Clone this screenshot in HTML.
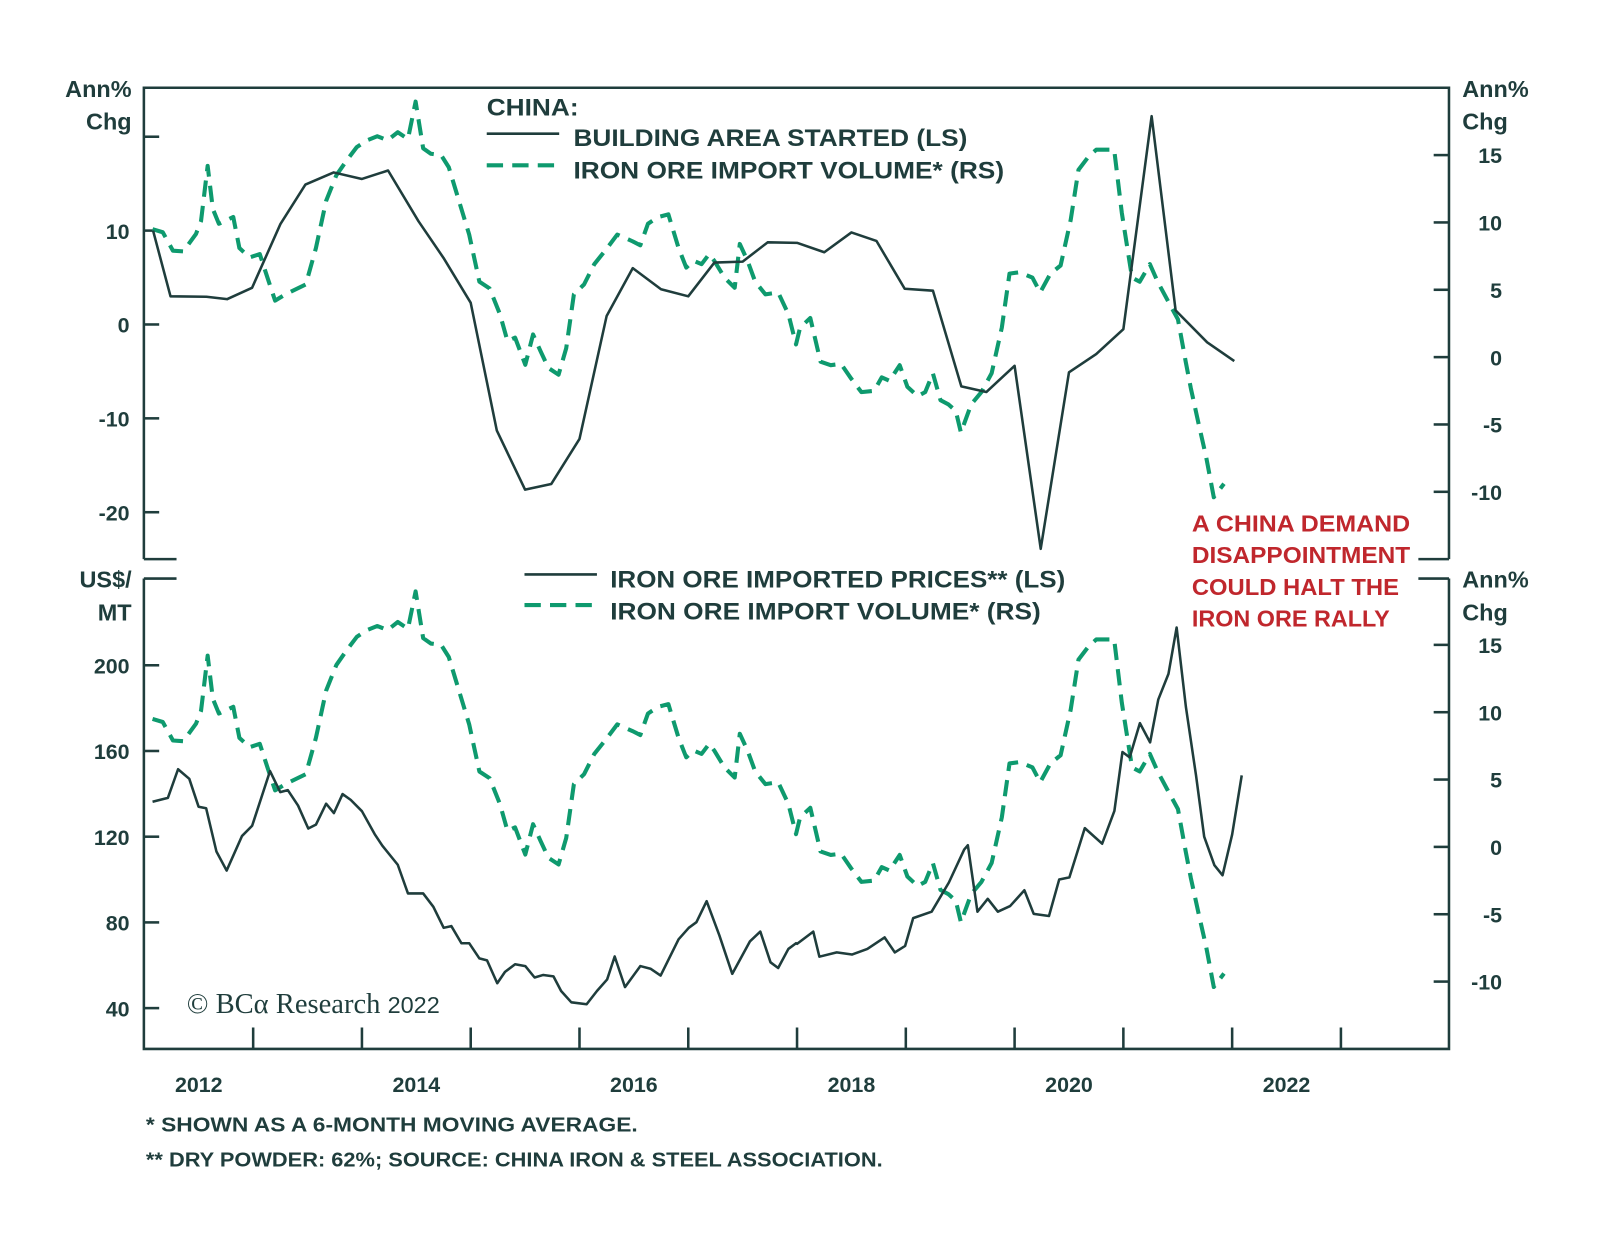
<!DOCTYPE html>
<html><head><meta charset="utf-8">
<style>
html,body{margin:0;padding:0;background:#fff;}
svg{display:block;}
text{font-family:"Liberation Sans",sans-serif;font-weight:bold;fill:#1f3d3c;}
</style></head>
<body>
<svg id="chart" width="1600" height="1253" viewBox="0 0 1568 1228" preserveAspectRatio="none" xmlns="http://www.w3.org/2000/svg">
<rect x="0" y="0" width="1568" height="1228" fill="#fff"/>
<g id="frame" stroke="#1f3d3c" stroke-width="2.5" fill="none">
<path d="M141,548 V86 H1420 V548"/>
<path d="M141,548 H173 M1390,548 H1420"/>
<path d="M141,567 V1028 H1420 V567"/>
<path d="M141,567 H173 M1390,567 H1420"/>
</g>
<g id="ticks" stroke="#1f3d3c" stroke-width="2.5"></g>
<g id="labels"></g>
<g id="series"></g>
<g>
<text x="477" y="113" font-size="24" textLength="90" lengthAdjust="spacingAndGlyphs">CHINA:</text>
<line x1="477" y1="131" x2="548" y2="131" stroke="#1f3d3c" stroke-width="2.5"/>
<text x="562" y="143" font-size="24" textLength="386" lengthAdjust="spacingAndGlyphs">BUILDING AREA STARTED (LS)</text>
<line x1="477" y1="162" x2="548" y2="162" stroke="#0e9a6e" stroke-width="4" stroke-dasharray="16,9"/>
<text x="562" y="175" font-size="24" textLength="422" lengthAdjust="spacingAndGlyphs">IRON ORE IMPORT VOLUME* (RS)</text>
</g>
<g>
<line x1="514" y1="563" x2="585" y2="563" stroke="#1f3d3c" stroke-width="2.5"/>
<text x="598" y="576" font-size="24" textLength="446" lengthAdjust="spacingAndGlyphs">IRON ORE IMPORTED PRICES** (LS)</text>
<line x1="514" y1="593" x2="585" y2="593" stroke="#0e9a6e" stroke-width="4" stroke-dasharray="16,9"/>
<text x="598" y="607" font-size="24" textLength="422" lengthAdjust="spacingAndGlyphs">IRON ORE IMPORT VOLUME* (RS)</text>
</g>
<g font-size="23">
<text x="1168" y="521" textLength="214" lengthAdjust="spacingAndGlyphs" style="fill:#c0272d">A CHINA DEMAND</text>
<text x="1168" y="552" textLength="214" lengthAdjust="spacingAndGlyphs" style="fill:#c0272d">DISAPPOINTMENT</text>
<text x="1168" y="583" textLength="203" lengthAdjust="spacingAndGlyphs" style="fill:#c0272d">COULD HALT THE</text>
<text x="1168" y="614" textLength="194" lengthAdjust="spacingAndGlyphs" style="fill:#c0272d">IRON ORE RALLY</text>
</g>
<g font-size="23">
<text x="129" y="95" text-anchor="end">Ann%</text>
<text x="129" y="127" text-anchor="end">Chg</text>
<text x="1433" y="95">Ann%</text>
<text x="1433" y="127">Chg</text>
<text x="129" y="576" text-anchor="end">US$/</text>
<text x="129" y="608" text-anchor="end">MT</text>
<text x="1433" y="576">Ann%</text>
<text x="1433" y="608">Chg</text>
</g>
<text x="183" y="993" font-size="28" style="font-family:'Liberation Serif',serif;font-weight:normal">© BCα Research <tspan font-size="23" style="font-family:'Liberation Sans',sans-serif">2022</tspan></text>
<text x="143" y="1109" font-size="20" textLength="482" lengthAdjust="spacingAndGlyphs">*  SHOWN AS A 6-MONTH MOVING AVERAGE.</text>
<text x="143" y="1143" font-size="20" textLength="722" lengthAdjust="spacingAndGlyphs">** DRY POWDER: 62%; SOURCE: CHINA IRON &amp; STEEL ASSOCIATION.</text>
</svg>
<script>
const buildT=[2012.08,2012.24,2012.57,2012.76,2012.99,2013.25,2013.48,2013.74,2014.0,2014.24,2014.52,2014.75,2015.0,2015.24,2015.5,2015.74,2016.0,2016.25,2016.49,2016.75,2017.0,2017.24,2017.5,2017.73,2018.0,2018.25,2018.5,2018.73,2018.99,2019.25,2019.51,2019.74,2020.0,2020.24,2020.5,2020.75,2021.0,2021.26,2021.48,2021.77,2022.02];
const buildV=[10,3.0,2.96,2.7,3.9,10.7,14.9,16.2,15.5,16.4,11.0,7.1,2.3,-11.3,-17.6,-17.0,-12.2,0.9,6.0,3.75,3.0,6.6,6.7,8.75,8.7,7.7,9.8,8.9,3.8,3.6,-6.6,-7.2,-4.4,-23.9,-5.1,-3.15,-0.5,22.2,1.5,-1.9,-3.9];
const volT=[2012.075,2012.169,2012.263,2012.357,2012.474,2012.521,2012.582,2012.629,2012.685,2012.817,2012.873,2012.967,2013.061,2013.131,2013.202,2013.296,2013.484,2013.577,2013.671,2013.765,2013.859,2013.953,2014.047,2014.141,2014.235,2014.329,2014.423,2014.493,2014.563,2014.634,2014.728,2014.798,2014.892,2014.986,2015.08,2015.174,2015.268,2015.338,2015.408,2015.502,2015.573,2015.643,2015.714,2015.808,2015.878,2015.948,2016.042,2016.136,2016.254,2016.347,2016.488,2016.559,2016.629,2016.723,2016.817,2016.911,2016.981,2017.052,2017.122,2017.192,2017.239,2017.333,2017.427,2017.474,2017.545,2017.615,2017.709,2017.826,2017.92,2017.991,2018.028,2018.122,2018.216,2018.31,2018.404,2018.498,2018.592,2018.709,2018.779,2018.85,2018.944,2019.014,2019.108,2019.178,2019.249,2019.319,2019.39,2019.46,2019.507,2019.601,2019.695,2019.789,2019.883,2019.953,2020.047,2020.164,2020.235,2020.329,2020.423,2020.516,2020.587,2020.681,2020.751,2020.845,2020.916,2020.986,2021.08,2021.15,2021.244,2021.315,2021.408,2021.502,2021.573,2021.62,2021.69,2021.761,2021.831,2021.925];
const volV=[9.5,9.27,7.9,7.85,9.14,10.1,14.2,11.0,9.9,10.4,8.1,7.4,7.65,5.9,4.2,4.66,5.4,8.1,11.6,13.5,14.6,15.6,16.1,16.4,16.1,16.7,16.2,18.97,15.5,15.1,15.0,14.1,11.6,9.1,5.6,5.1,3.2,1.2,1.45,-0.57,1.68,0.43,-0.8,-1.3,0.67,4.66,5.4,6.9,8.1,9.1,8.6,8.3,9.9,10.4,10.6,8.1,6.65,7.15,6.9,7.65,7.15,5.9,5.15,8.4,7.15,5.6,4.66,4.8,3.2,0.95,2.2,2.9,-0.34,-0.6,-0.5,-1.6,-2.6,-2.5,-1.5,-1.76,-0.6,-2.2,-2.9,-2.6,-1.2,-3.2,-3.5,-4.0,-5.6,-3.5,-2.6,-1.2,2.2,6.2,6.3,5.9,4.8,6.2,6.8,10.2,13.9,14.9,15.4,15.4,15.4,10.7,5.9,5.6,6.9,5.6,4.2,2.8,-0.34,-2.3,-4.9,-7.4,-10.4,-9.4];
const priceT=[2012.075,2012.216,2012.31,2012.413,2012.498,2012.568,2012.662,2012.756,2012.897,2012.991,2013.155,2013.249,2013.319,2013.413,2013.507,2013.577,2013.671,2013.742,2013.822,2013.897,2014.0,2014.117,2014.188,2014.329,2014.423,2014.563,2014.657,2014.751,2014.822,2014.915,2014.986,2015.08,2015.15,2015.244,2015.315,2015.408,2015.502,2015.587,2015.667,2015.761,2015.831,2015.925,2016.066,2016.16,2016.254,2016.324,2016.418,2016.559,2016.653,2016.746,2016.911,2017.005,2017.075,2017.169,2017.286,2017.404,2017.568,2017.662,2017.756,2017.826,2017.92,2017.991,2018.0,2018.149,2018.205,2018.365,2018.505,2018.646,2018.805,2018.899,2018.993,2019.068,2019.237,2019.396,2019.537,2019.57,2019.659,2019.753,2019.846,2019.959,2020.09,2020.175,2020.316,2020.41,2020.504,2020.645,2020.805,2020.917,2020.992,2021.058,2021.152,2021.246,2021.321,2021.415,2021.49,2021.575,2021.668,2021.743,2021.837,2021.912,2022.0,2022.088];
const priceV=[136.3,138.1,151.5,147,134,133.3,113.1,104.2,120.3,125.1,150.6,140.8,141.7,134.5,123.8,125.6,135.4,131,139.9,137.2,131.9,121.2,115.8,106.9,93.5,93.5,87.3,77.5,78.3,70.3,70.3,63.2,62.3,51.6,56.9,60.5,59.6,54.3,55.5,54.8,48,42.7,41.8,48,53.4,64.1,49.8,59.6,58.4,55.2,72.1,77.5,80.1,89.9,73.9,56,71.2,75.7,61.4,58.7,67.6,70.3,70,75.7,64,66,65,67.6,73,66,69,82,85,98.6,114,116,85,91,85,87.6,95,84,83,100,101,124,116.7,132,159.5,157,173,164,184,196,217.6,180.5,148.6,120,106.7,102,121,148.6];
const yearLabels=["2012","2014","2016","2018","2020","2022"];
const topLeftTicks=[20,10,0,-10,-20];
const rightTicks=[15,10,5,0,-5,-10];
const priceTicks=[200,160,120,80,40];

const NS="http://www.w3.org/2000/svg";
const X=t=>141.5+(t-2012)*106.6;
const yTopL=v=>318-9.2*v;
const yTopR=v=>350-13.2*v;
const yBotL=v=>652+(200-v)*2.1;
const yBotR=v=>830-13.2*v;
function mk(tag,attrs,parent){const e=document.createElementNS(NS,tag);for(const k in attrs)e.setAttribute(k,attrs[k]);parent.appendChild(e);return e;}
const ticks=document.getElementById('ticks'),labels=document.getElementById('labels'),series=document.getElementById('series');
topLeftTicks.forEach(v=>{const y=yTopL(v);const l=mk('line',{x1:141,x2:156,y1:y,y2:y},ticks);


if(v!==20){const t=mk('text',{x:127,y:y+8,'text-anchor':'end','font-size':21},labels);t.textContent=v;

}});
rightTicks.forEach(v=>{[[yTopR,'top'],[yBotR,'bottom']].forEach(([f,p])=>{const y=f(v);const l=mk('line',{x1:1405,x2:1420,y1:y,y2:y},ticks);


const t=mk('text',{x:1472,y:y+8,'text-anchor':'end','font-size':21},labels);t.textContent=v;

});});
priceTicks.forEach(v=>{const y=yBotL(v);const l=mk('line',{x1:141,x2:156,y1:y,y2:y},ticks);


const t=mk('text',{x:127,y:y+8,'text-anchor':'end','font-size':21},labels);t.textContent=v;

});
for(let yr=2013;yr<=2023;yr++){const x=X(yr);const l=mk('line',{x1:x,x2:x,y1:1028,y2:1007},ticks);

}
yearLabels.forEach(s=>{const t=mk('text',{x:X(+s+0.5),y:1070,'text-anchor':'middle','font-size':21},labels);t.textContent=s;

});
function line(ts,vs,fy,name,dashed){const d=ts.map((t,i)=>(i?'L':'M')+X(t).toFixed(1)+','+fy(vs[i]).toFixed(1)).join('');
const p=mk('path',{d:d,fill:'none',stroke:dashed?'#0e9a6e':'#1f3d3c','stroke-width':dashed?4:2.5,'stroke-linejoin':'round'},series);
if(dashed)p.setAttribute('stroke-dasharray','16,9');

}
line(volT,volV,yTopR,'top-import-volume-line',true);
line(buildT,buildV,yTopL,'building-area-line',false);
line(volT,volV,yBotR,'bottom-import-volume-line',true);
line(priceT,priceV,yBotL,'iron-ore-price-line',false);
</script>
</body></html>
